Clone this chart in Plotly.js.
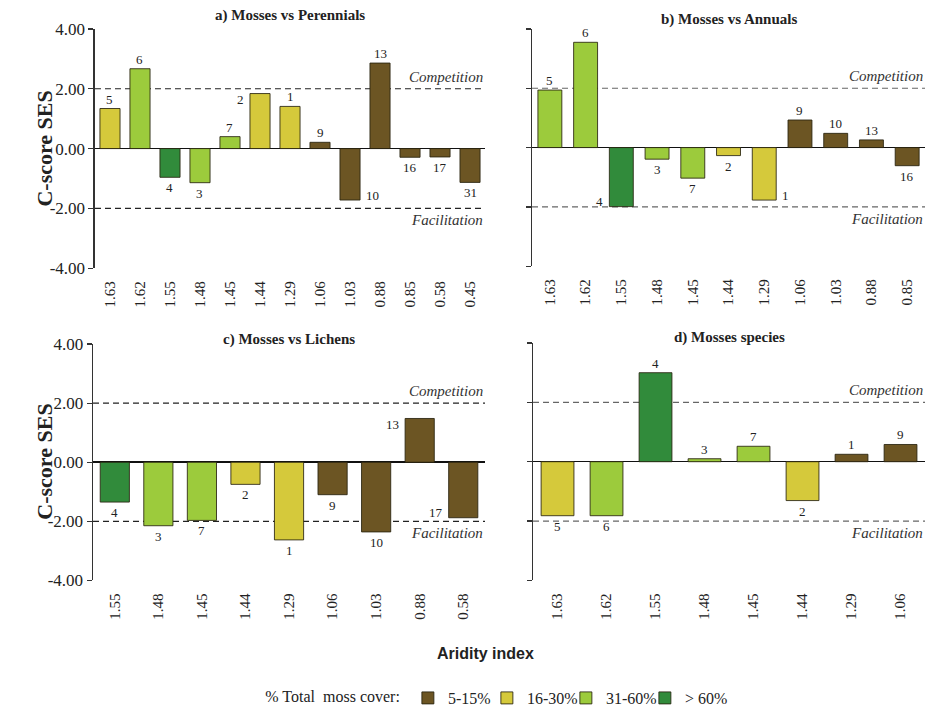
<!DOCTYPE html>
<html>
<head>
<meta charset="utf-8">
<script src="https://cdn.plot.ly/plotly-3.0.1.min.js"></script>
<style>html,body{margin:0;padding:0;background:#fff;}#chart{width:934px;height:715px;}</style>
</head>
<body>
<div id="chart"></div>
<script>
// ---- Data ----
const coverClasses = ['5-15%', '16-30%', '31-60%', '> 60%'];

const catsA = ['1.63','1.62','1.55','1.48','1.45','1.44','1.29','1.06','1.03','0.88','0.85','0.58','0.45'];
const sesA = [1.34, 2.67, -0.96, -1.14, 0.40, 1.84, 1.41, 0.21, -1.72, 2.86, -0.29, -0.28, -1.13];
const coverA = ['16-30%','31-60%','> 60%','31-60%','31-60%','16-30%','16-30%','5-15%','5-15%','5-15%','5-15%','5-15%','5-15%'];
const nA = ['5','6','4','3','7','2','1','9','10','13','16','17','31'];

const catsB = ['1.63','1.62','1.55','1.48','1.45','1.44','1.29','1.06','1.03','0.88','0.85'];
const sesB = [1.94, 3.55, -1.99, -0.39, -1.03, -0.27, -1.77, 0.93, 0.48, 0.26, -0.61];
const coverB = ['31-60%','31-60%','> 60%','31-60%','31-60%','16-30%','16-30%','5-15%','5-15%','5-15%','5-15%'];
const nB = ['5','6','4','3','7','2','1','9','10','13','16'];

const catsC = ['1.55','1.48','1.45','1.44','1.29','1.06','1.03','0.88','0.58'];
const sesC = [-1.35, -2.15, -1.97, -0.75, -2.63, -1.10, -2.36, 1.48, -1.88];
const coverC = ['> 60%','31-60%','31-60%','16-30%','16-30%','5-15%','5-15%','5-15%','5-15%'];
const nC = ['4','3','7','2','1','9','10','13','17'];

const catsD = ['1.63','1.62','1.55','1.48','1.45','1.44','1.29','1.06'];
const sesD = [-1.82, -1.82, 3.00, 0.10, 0.52, -1.31, 0.25, 0.58];
const coverD = ['16-30%','31-60%','> 60%','31-60%','31-60%','16-30%','5-15%','5-15%'];
const nD = ['5','6','4','3','7','2','1','9'];

const yTicks = [-4, -2, 0, 2, 4];
const yTickText = ['-4.00', '-2.00', '0.00', '2.00', '4.00'];

// ---- Styles ----
const colors = {'5-15%': '#6c5523', '16-30%': '#d5c93b', '31-60%': '#9ccb3c', '> 60%': '#318b3b'};
const serif = 'Liberation Serif, Times New Roman, serif';
const BAR_W = 0.67;
const W = 934, H = 715;

const panels = [
  {id: 'a', title: 'a) Mosses vs Perennials', cats: catsA, ses: sesA, cover: coverA, n: nA, xa: 'x', ya: 'y',
   xd: [0.1017, 0.5193], yd: [0.6238, 0.9594], labels: true, dash: '#222', side: {5: 'L', 8: 'R'}, ty: 16},
  {id: 'b', title: 'b) Mosses vs Annuals', cats: catsB, ses: sesB, cover: coverB, n: nB, xa: 'x2', ya: 'y2',
   xd: [0.5696, 0.9904], yd: [0.6266, 0.9594], labels: false, dash: '#666', side: {2: 'L', 6: 'R'}, ty: 20},
  {id: 'c', title: 'c) Mosses vs Lichens', cats: catsC, ses: sesC, cover: coverC, n: nC, xa: 'x3', ya: 'y3',
   xd: [0.0996, 0.5193], yd: [0.186, 0.5175], labels: true, dash: '#222', side: {7: 'L', 8: 'L'}, ty: 340},
  {id: 'd', title: 'd) Mosses species', cats: catsD, ses: sesD, cover: coverD, n: nD, xa: 'x4', ya: 'y4',
   xd: [0.5707, 0.9904], yd: [0.186, 0.5189], labels: false, dash: '#666', side: {}, ty: 338}
];

const traces = [];
const annotations = [];
const shapes = [];
const layout = {
  width: W, height: H,
  margin: {l: 0, r: 0, t: 0, b: 0},
  paper_bgcolor: '#fff', plot_bgcolor: 'rgba(0,0,0,0)',
  barmode: 'overlay',
  showlegend: true,
  legend: {
    orientation: 'h', x: 0.571, xanchor: 'center', y: 1 - 700/H, yanchor: 'middle',
    title: {text: '% Total  moss cover:', side: 'left', font: {family: serif, size: 16, color: '#222'}},
    font: {family: serif, size: 16, color: '#222'},
    traceorder: 'normal', itemwidth: 30, tracegroupgap: 0,
    entrywidth: 34, entrywidthmode: 'pixels'
  },
  font: {family: serif, color: '#222'}
};

panels.forEach((p, pi) => {
  coverClasses.forEach(cls => {
    const xs = [], ys = [];
    p.cats.forEach((c, i) => { if (p.cover[i] === cls) { xs.push(c); ys.push(p.ses[i]); } });
    traces.push({
      type: 'bar', x: xs, y: ys, xaxis: p.xa, yaxis: p.ya, name: cls,
      legendgroup: cls, showlegend: pi === 0,
      width: BAR_W,
      marker: {color: colors[cls], line: {color: 'rgba(40,35,15,0.85)', width: 1}},
      hoverinfo: 'x+y'
    });
  });
  const xk = p.xa === 'x' ? 'xaxis' : 'xaxis' + p.xa.slice(1);
  const yk = p.ya === 'y' ? 'yaxis' : 'yaxis' + p.ya.slice(1);
  layout[xk] = {
    domain: p.xd, anchor: p.ya, type: 'category',
    categoryorder: 'array', categoryarray: p.cats,
    range: [-0.5, p.cats.length - 0.5],
    showline: false, showgrid: false, zeroline: false,
    ticks: 'outside', ticklen: 6, tickcolor: 'rgba(0,0,0,0)',
    tickangle: -90, tickfont: {family: serif, size: 15, color: '#222'}
  };
  layout[yk] = {
    domain: p.yd, anchor: p.xa, range: [-4, 4],
    tickvals: yTicks, ticktext: yTickText, showticklabels: p.labels,
    tickfont: {family: serif, size: 17, color: '#222'},
    ticks: 'outside', ticklen: 5, tickcolor: '#333', tickwidth: 1.2,
    showline: true, linecolor: '#333', linewidth: 1.5,
    showgrid: false, zeroline: true, zerolinecolor: '#111', zerolinewidth: 1.5
  };
  // Threshold lines
  [2, -2].forEach(v => shapes.push({
    type: 'line', xref: p.xa + ' domain', yref: p.ya, x0: 0, x1: 1, y0: v, y1: v,
    line: {color: p.dash, width: 1.2, dash: '6px,4px'}, layer: 'below'
  }));
  annotations.push({xref: p.xa + ' domain', yref: p.ya, x: 1, y: 2, xanchor: 'right', yanchor: 'bottom', yshift: 2,
    text: '<i>Competition</i>', showarrow: false, font: {family: serif, size: 15, color: '#333'}});
  annotations.push({xref: p.xa + ' domain', yref: p.ya, x: 1, y: -2, xanchor: 'right', yanchor: 'top', yshift: -2,
    text: '<i>Facilitation</i>', showarrow: false, font: {family: serif, size: 15, color: '#333'}});
  // Panel title
  annotations.push({xref: 'paper', yref: 'paper', x: (p.xd[0] + p.xd[1]) / 2, y: 1 - p.ty / H,
    xanchor: 'center', yanchor: 'middle', text: '<b>' + p.title + '</b>', showarrow: false,
    font: {family: serif, size: 15, color: '#222'}});
  // Bar count labels (x given as category index)
  const halfBarPx = BAR_W / 2 * (p.xd[1] - p.xd[0]) * W / p.cats.length;
  p.cats.forEach((c, i) => {
    const v = p.ses[i];
    const s = p.side[i];
    const a = {xref: p.xa, yref: p.ya, x: i, y: v, text: p.n[i], showarrow: false,
      font: {family: serif, size: 13, color: '#222'}};
    if (s) {
      a.yanchor = 'middle';
      if (s === 'L') { a.xanchor = 'right'; a.xshift = -(halfBarPx + 4); }
      else { a.xanchor = 'left'; a.xshift = halfBarPx + 4; }
      a.yshift = v >= 0 ? -6 : 5;
    } else if (v >= 0) {
      a.yanchor = 'bottom'; a.yshift = 0;
    } else {
      a.yanchor = 'top'; a.yshift = -1;
    }
    annotations.push(a);
  });
});

// Invisible spacer entry so the last legend label is not clipped
traces.push({type: 'bar', x: [null], y: [null], xaxis: 'x', yaxis: 'y', name: '\u00a0',
  showlegend: true, marker: {color: 'rgba(0,0,0,0)', line: {width: 0}}, hoverinfo: 'skip'});

// Shared labels
annotations.push({xref: 'paper', yref: 'paper', x: 45/W, y: 1 - 149/H, textangle: -90,
  text: '<b>C-score SES</b>', showarrow: false, xanchor: 'center', yanchor: 'middle',
  font: {family: serif, size: 22, color: '#222'}});
annotations.push({xref: 'paper', yref: 'paper', x: 45/W, y: 1 - 463/H, textangle: -90,
  text: '<b>C-score SES</b>', showarrow: false, xanchor: 'center', yanchor: 'middle',
  font: {family: serif, size: 22, color: '#222'}});
annotations.push({xref: 'paper', yref: 'paper', x: 485/W, y: 1 - 655/H,
  text: '<b>Aridity index</b>', showarrow: false, xanchor: 'center', yanchor: 'middle',
  font: {family: 'Liberation Sans, Arial, sans-serif', size: 16, color: '#222'}});

layout.shapes = shapes;
layout.annotations = annotations;

Plotly.newPlot('chart', traces, layout, {displayModeBar: false, staticPlot: true});
</script>
</body>
</html>
